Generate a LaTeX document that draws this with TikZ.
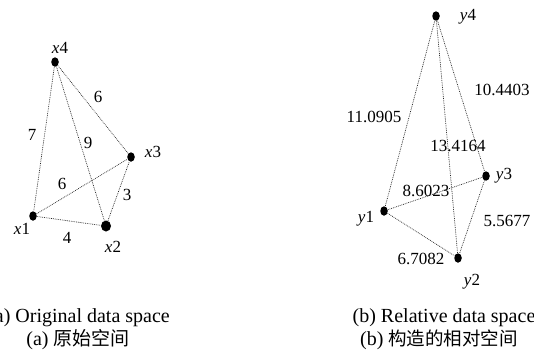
\documentclass[tikz,border=0pt]{standalone}
\usepackage{fontspec}
\setmainfont{Liberation Serif}
\newfontfamily\cjk{Noto Sans CJK SC}
\usepackage{tikz}
\usetikzlibrary{shapes.geometric}

\begin{document}
\begin{tikzpicture}[x=1pt,y=-1pt,
    pt/.style={ellipse,fill=black,inner sep=0pt,minimum width=7.5pt,minimum height=9.5pt},
    bigpt/.style={pt,minimum width=10pt,minimum height=11pt},
    link/.style={draw=black!85,line width=0.7pt,dash pattern=on 0.8pt off 1pt},
    vlab/.style={inner sep=0pt,font=\fontsize{17}{17}\selectfont},
    dlab/.style={inner sep=0pt,font=\fontsize{17}{17}\selectfont},
    capt/.style={inner sep=0pt,font=\fontsize{20}{20}\selectfont}]
      \useasboundingbox (0,0) rectangle (534,351);
      % (a) original space
      \node[pt] (x4) at (55,62) {};
      \node[pt] (x3) at (131,157) {};
      \node[pt] (x1) at (33,216) {};
      \node[bigpt] (x2) at (106,226) {};
      \draw[link] (x4) -- (x1);
      \draw[link] (x4) -- (x2);
      \draw[link] (x4) -- (x3);
      \draw[link] (x1) -- (x3);
      \draw[link] (x1) -- (x2);
      \draw[link] (x2) -- (x3);
      \node[vlab] (lx4) at (60,48) {\itshape x\upshape 4};
      \node[vlab] (lx3) at (153,152) {\itshape x\upshape 3};
      \node[vlab] (lx1) at (22,229) {\itshape x\upshape 1};
      \node[vlab] (lx2) at (113,247) {\itshape x\upshape 2};
      \node[dlab] (d43) at (98,97) {6};
      \node[dlab] (d41) at (32,135) {7};
      \node[dlab] (d42) at (88,143) {9};
      \node[dlab] (d13) at (62,184) {6};
      \node[dlab] (d23) at (127,195) {3};
      \node[dlab] (d12) at (67,238) {4};
      % (b) relative space
      \node[pt] (y4) at (436,16) {};
      \node[pt] (y3) at (486,176) {};
      \node[pt] (y1) at (384,211) {};
      \node[pt] (y2) at (458,258) {};
      \draw[link] (y4) -- (y1);
      \draw[link] (y4) -- (y2);
      \draw[link] (y4) -- (y3);
      \draw[link] (y1) -- (y3);
      \draw[link] (y1) -- (y2);
      \draw[link] (y3) -- (y2);
      \node[vlab] (ly4) at (468,17) {\itshape y\upshape 4};
      \node[vlab] (ly3) at (504,176) {\itshape y\upshape 3};
      \node[vlab] (ly1) at (366,219) {\itshape y\upshape 1};
      \node[vlab] (ly2) at (472,282) {\itshape y\upshape 2};
      \node[dlab] (e43) at (502,90) {10.4403};
      \node[dlab] (e41) at (374,117) {11.0905};
      \node[dlab] (e42) at (458,146) {13.4164};
      \node[dlab] (e13) at (426,191) {8.6023};
      \node[dlab] (e23) at (507,221) {5.5677};
      \node[dlab] (e12) at (421,259) {6.7082};
      % captions
      \node[capt] (ca) at (79,318) {(a) Original data space};
      \node[capt] (cb) at (444,318) {(b) Relative data space};
      \node[capt] (za) at (78,340) {(a) {\cjk\fontsize{19}{19}\selectfont 原始空间}};
      \node[capt] (zb) at (439,340) {(b) {\cjk\fontsize{18.5}{19}\selectfont 构造的相对空间}};
\end{tikzpicture}
\end{document}
